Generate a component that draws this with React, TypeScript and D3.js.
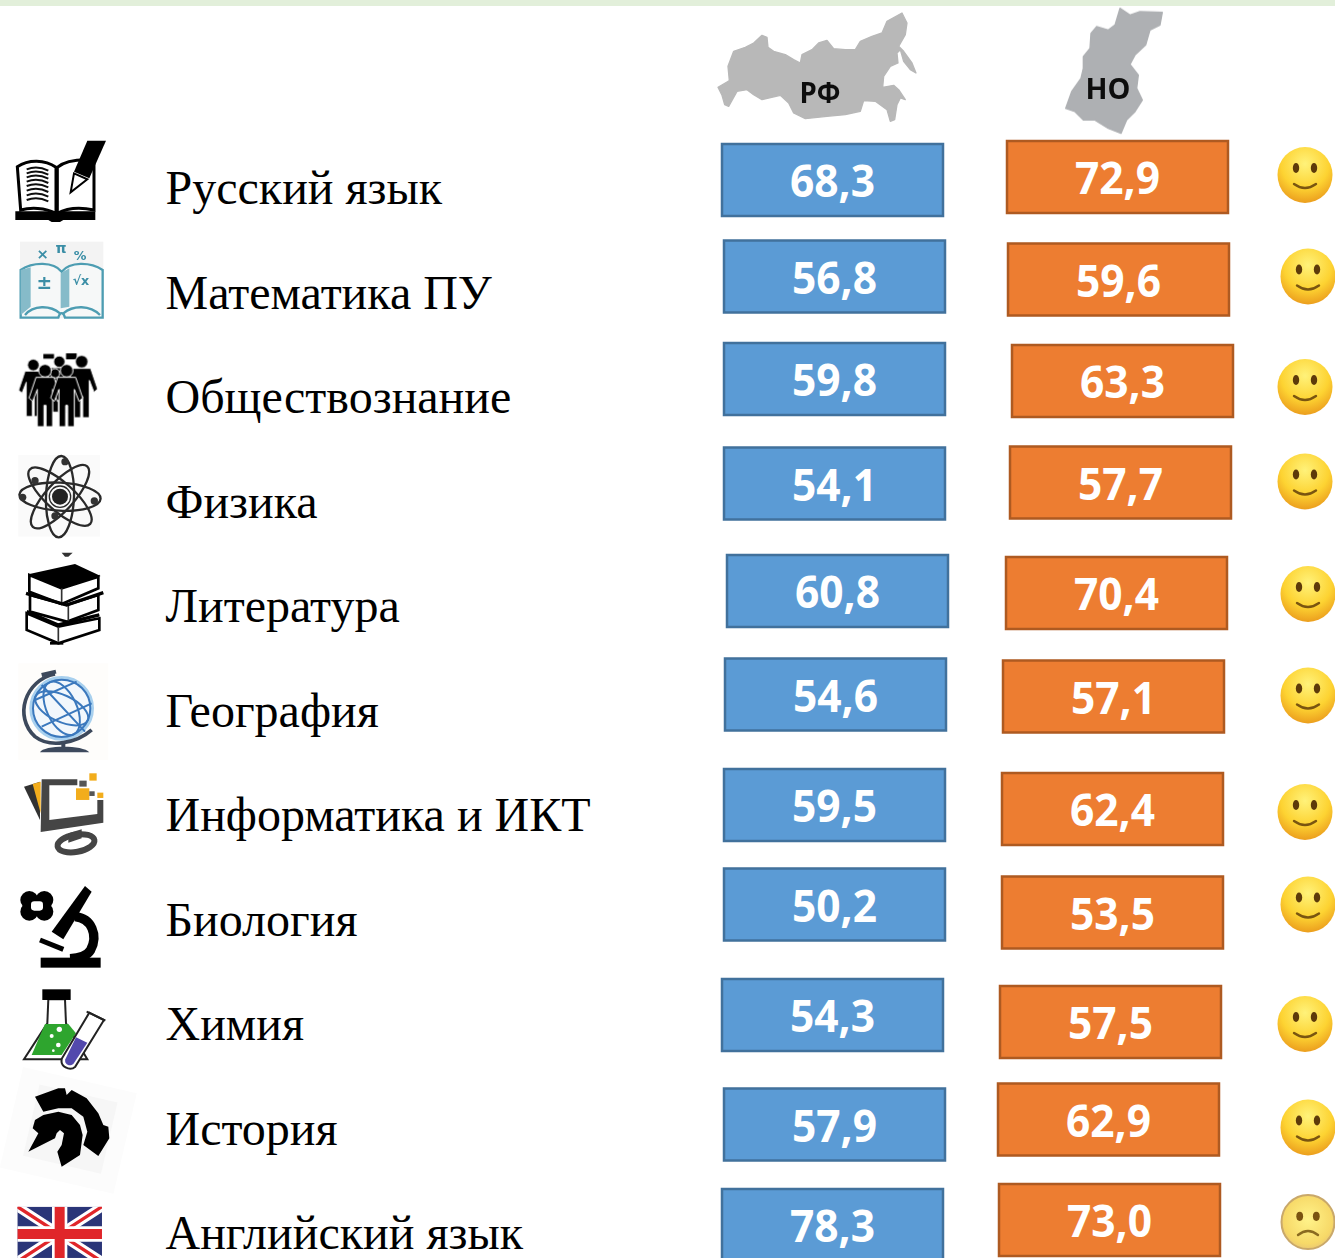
import React from "react";
import * as d3 from "d3";

// ---------- data ----------
const subjects = ["Русский язык","Математика ПУ","Обществознание","Физика","Литература","География","Информатика и ИКТ","Биология","Химия","История","Английский язык"];
const rfValues = [68.3,56.8,59.8,54.1,60.8,54.6,59.5,50.2,54.3,57.9,78.3];
const noValues = [72.9,59.6,63.3,57.7,70.4,57.1,62.4,53.5,57.5,62.9,73.0];
const headers = ["РФ","НО"];

// ---------- layout (hand-placed collage, offsets from each row's baseline) ----------
const W = 1335, H = 1258, BAR_W = 221, BAR_H = 72;
const rfX = [722,724,724,724,727,725,724,724,722,724,722];
const noX = [1007,1008,1012,1010,1006,1003,1002,1002,1000,998,999];
const rfDy = [-61,-69,-71,-71,-68,-69,-63,-68,-62,-57,-61];
const noDy = [-64,-66,-69,-72,-66,-67,-59,-60,-55,-62,-66];
const faceX = [1305,1308,1305,1305,1308,1308,1305,1308,1305,1308,1308];
const faceDy = [-30,-33,-27,-37,-29,-32,-20,-32,-17,-18,-28];

const rowY = d3.scalePoint<string>().domain(subjects).range([204,1249]);
const fmt = (v:number) => d3.format(".1f")(v).replace(".",",");

const russia = "M18 238L45 222L52 218L48 175L65 130L100 118L125 105L150 82L165 88L168 118L185 130L220 140L245 155L265 165L270 140L300 125L320 105L345 97L365 122L400 125L430 125L445 100L480 85L510 75L525 40L570 15L585 45L580 80L560 115L575 130L600 165L612 195L595 185L575 160L565 125L555 135L558 165L535 175L515 205L512 238L545 232L560 245L580 275L565 270L555 290L548 335L535 340L525 305L490 280L455 278L445 310L400 320L345 325L280 332L245 315L230 285L205 262L150 275L125 260L105 245L75 250L50 295L38 290L30 262Z";
const oblast = "M195 10L225 30L255 20L322 22L315 60L285 75L272 120L240 150L225 178L250 210L245 250L262 285L240 320L215 345L198 385L160 370L120 345L85 345L60 320L32 310L50 260L78 220L85 190L85 155L105 130L108 85L125 65L160 75L180 60Z";

function Person({x,y,s=1}:{x:number,y:number,s?:number}) {
  return <g transform={`translate(${x},${y}) scale(${s})`} fill="#000" stroke="#fff" strokeWidth="3">
    <path d="M-27 20H27L48 82L37 92L23 56V168H3V104H-3V168H-23V56L-37 92L-48 82Z"/>
    <circle r="19"/>
  </g>;
}

function Icon({i}:{i:number}) {
  const z = {filter:"url(#soft)"};
  if (i===0) return <g transform="translate(0,130) scale(.3333)" style={z}>
    <path d="M52 110C85 88 135 88 168 112V250C135 232 90 232 62 240Z M172 112C200 88 250 88 282 90V240C245 232 205 232 172 250Z" fill="#fff" stroke="#000" strokeWidth="9"/>
    <path d="M46 244H286V270H190L180 276H155L145 270H46Z" fill="#000"/>
    <g fill="none" stroke="#111" strokeWidth="6">
      {[118,130,142,155,168,182,196,210].map(y=><path key={y} d={`M80 ${y}C100 ${y-8} 125 ${y-6} 145 ${y+4}`}/>)}
    </g>
    <path d="M262 32H318L268 145L222 125Z" fill="#000"/>
    <path d="M222 130L262 148L212 187Z" fill="#fff" stroke="#000" strokeWidth="6"/>
  </g>;
  if (i===1) return <g transform="translate(0,130) scale(.3333)" style={z}>
    <rect x="60" y="335" width="250" height="230" fill="#f3f3f3"/>
    <path d="M62 420C100 395 160 395 185 425C210 395 270 395 308 420V563H195C190 545 180 545 175 563H62Z" fill="#f6f8f8" stroke="#4e9db2" strokeWidth="7"/>
    <path d="M62 420L92 412V530L62 555Z M208 415L182 430V535L208 530Z" fill="#86bbc9"/>
    <path d="M75 555C100 525 150 525 180 550M190 550C220 525 270 525 300 555" fill="none" stroke="#4e9db2" strokeWidth="7"/>
    <g fill="#3b8ea6" fontFamily="DejaVu Sans" fontWeight="700" textAnchor="middle">
      <text x="128" y="388" fontSize="44">×</text>
      <text x="183" y="368" fontSize="42">π</text>
      <text x="240" y="390" fontSize="38">%</text>
      <text x="133" y="476" fontSize="56">±</text>
      <text x="243" y="464" fontSize="38">√x</text>
    </g>
  </g>;
  if (i===2) return <g transform="translate(0,340) scale(.3333)" style={z}>
    <rect x="130" y="42" width="32" height="14" fill="#000"/>
    <rect x="198" y="40" width="32" height="18" fill="#000"/>
    <Person x={100} y={75} s={.92}/>
    <Person x={245} y={65} s={1.0}/>
    <Person x={178} y={65} s={.9}/>
    <circle cx="165" cy="100" r="14" fill="#000" stroke="#fff" strokeWidth="3"/>
    <Person x={135} y={92}/>
    <Person x={200} y={92}/>
  </g>;
  if (i===3) return <g transform="translate(0,440) scale(.3333)" style={z}>
    <rect x="55" y="45" width="245" height="245" fill="#fafafa"/>
    <g fill="none" stroke="#2a2a2a" strokeWidth="7">
      {[3,42,92,132].map(a=><ellipse key={a} cx="180" cy="170" rx="122" ry="42" transform={`rotate(${a} 180 170)`}/>)}
      <circle cx="180" cy="170" r="32" strokeWidth="4"/>
    </g>
    <circle cx="180" cy="170" r="24" fill="#222"/>
    {[[195,65],[105,122],[283,183],[165,228],[68,172]].map(([x,y])=><circle key={x} cx={x} cy={y} r="11" fill="#333"/>)}
  </g>;
  if (i===4) return <g transform="translate(0,440) scale(.3333)" style={z}>
    <path d="M185 338H218L205 350H195Z" fill="#333"/>
    <path d="M80 520V570L175 610L298 570V535L175 560Z" fill="#fff" stroke="#000" strokeWidth="8"/>
    <path d="M90 465V515L200 545L295 510V465L200 495Z" fill="#fff" stroke="#000" strokeWidth="8"/>
    <path d="M88 405V455L185 492L295 445V410L185 445Z" fill="#fff" stroke="#000" strokeWidth="8"/>
    <path d="M85 403L225 372L302 408L185 445Z" fill="#000"/>
    <path d="M185 445V490M205 495V545M175 560V605" stroke="#333" strokeWidth="5"/>
    <path d="M80 515L175 555L298 525" fill="none" stroke="#000" strokeWidth="10"/>
    <path d="M78 460L200 495L310 458" fill="none" stroke="#000" strokeWidth="10"/>
    <path d="M150 610H190" stroke="#000" strokeWidth="8"/>
  </g>;
  if (i===5) return <g transform="translate(0,440) scale(.3333)" style={z}>
    <rect x="55" y="670" width="270" height="290" fill="#fefdfb"/>
    <circle cx="185" cy="805" r="92" fill="#f2f7fc" stroke="#a8d0ee" strokeWidth="10"/>
    <g fill="none" stroke="#3a78bd" strokeWidth="6">
      <ellipse cx="185" cy="805" rx="86" ry="86"/>
      <ellipse cx="185" cy="805" rx="45" ry="86" transform="rotate(-25 185 805)"/>
      <ellipse cx="185" cy="805" rx="86" ry="40" transform="rotate(25 185 805)"/>
      <path d="M125 735L255 875M105 780L230 725M125 860L275 790"/>
    </g>
    <path d="M165 702C75 720 40 830 105 890C150 925 230 910 275 870" fill="none" stroke="#3d4a5c" strokeWidth="11"/>
    <path d="M125 705L168 695" stroke="#3d4a5c" strokeWidth="12"/>
    <path d="M190 905V925" stroke="#3d4a5c" strokeWidth="12"/>
    <path d="M120 937C130 915 250 915 268 937Z" fill="#3d4a5c"/>
  </g>;
  if (i===6) return <g transform="translate(0,440) scale(.3333)" style={z}>
    <path d="M72 1040L120 1025V1140Z" fill="#333"/>
    <path d="M98 1032L122 1025V1120Z" fill="#f2ad1e"/>
    <path d="M125 1018H232V1036H148V1140L292 1122V1080H310V1148L122 1176Z" fill="#444"/>
    <rect x="228" y="1045" width="40" height="35" fill="#f2ad1e"/>
    <rect x="268" y="1000" width="22" height="22" fill="#f2ad1e"/>
    <rect x="238" y="1022" width="22" height="18" fill="#555"/>
    <rect x="292" y="1058" width="18" height="16" fill="#f2ad1e"/>
    <rect x="268" y="1054" width="16" height="14" fill="#555"/>
    <ellipse cx="228" cy="1210" rx="56" ry="26" fill="none" stroke="#444" strokeWidth="18" transform="rotate(-10 228 1210)"/>
    <path d="M205 1208V1180L245 1168V1195Z" fill="#444"/>
  </g>;
  if (i===7) return <g transform="translate(0,860) scale(.3333)" style={z}>
    <g fill="#000"><circle cx="88" cy="120" r="27"/><circle cx="133" cy="120" r="27"/><circle cx="88" cy="155" r="27"/><circle cx="133" cy="155" r="27"/></g>
    <rect x="93" y="124" width="36" height="28" rx="10" fill="#fff"/>
    <path d="M255 78L275 95L190 238L155 215Z" fill="#000"/>
    <path d="M120 240L190 268" stroke="#000" strokeWidth="15"/>
    <path d="M225 170C275 175 295 225 272 270C260 290 235 295 210 296" fill="none" stroke="#000" strokeWidth="28"/>
    <rect x="122" y="293" width="180" height="30" fill="#000"/>
  </g>;
  if (i===8) return <g transform="translate(0,860) scale(.3333)" style={z}>
    <path d="M145 418H195L198 490L262 598H72L142 490Z" fill="#fff" stroke="#222" strokeWidth="6"/>
    <path d="M135 492H205L228 520L185 585H95Z" fill="#2fa52f"/>
    <g fill="#fff"><circle cx="178" cy="508" r="8"/><circle cx="155" cy="528" r="6"/><circle cx="175" cy="555" r="7"/><circle cx="160" cy="572" r="4"/></g>
    <rect x="127" y="388" width="85" height="32" fill="#000"/>
    <path d="M268 458L312 480L226 620C210 635 178 620 186 595Z" fill="#fff" stroke="#222" strokeWidth="6"/>
    <path d="M228 532L262 548L220 612C208 622 192 612 196 598Z" fill="#5248ad"/>
    <path d="M260 455L316 482" stroke="#222" strokeWidth="6"/>
  </g>;
  if (i===9) return <g transform="translate(0,1070) scale(.3333)" style={z}>
    <rect x="30" y="25" width="350" height="310" fill="#fcfcfc" transform="rotate(13 200 180)"/>
    <rect x="90" y="65" width="240" height="220" fill="#f6f6f6" transform="rotate(13 200 180)"/>
    <path d="M105 80L175 55L195 55L200 75L215 60L260 85L295 130L310 165L325 170L328 205L295 258L250 225L262 185L250 140L215 115L175 115L130 125Z" fill="#000"/>
    <path d="M130 135L175 125L215 135L240 165L248 195L240 255L185 290L172 245L185 225L192 190L180 180L170 190L165 205L85 245L115 190L98 175L105 150Z" fill="#000"/>
  </g>;
  // flag
  return <g transform="translate(0,860) scale(.3333)" style={z}>
    <clipPath id="flagClip"><rect x="52" y="1040" width="254" height="154"/></clipPath>
    <g clipPath="url(#flagClip)">
      <rect x="52" y="1040" width="254" height="154" fill="#2a3578"/>
      <path d="M52 1040L306 1205M306 1040L52 1205" stroke="#fff" strokeWidth="28"/>
      <path d="M52 1040L306 1205M306 1040L52 1205" stroke="#e0272b" strokeWidth="10"/>
      <path d="M179 1040V1194M52 1122H306" stroke="#fff" strokeWidth="46"/>
      <path d="M179 1040V1194M52 1122H306" stroke="#e0272b" strokeWidth="30"/>
    </g>
  </g>;
}

function Face({x,y,sad}:{x:number,y:number,sad:boolean}) {
  if (sad) return <g transform={`translate(${x},${y})`}>
    <ellipse rx="26.5" ry="27" fill="url(#sadG)" stroke="#c9a86a" strokeWidth="2"/>
    <ellipse cx="-8.3" cy="-5.7" rx="3.4" ry="4.6" fill="#7a5310"/>
    <ellipse cx="8.3" cy="-5.7" rx="3.4" ry="4.6" fill="#7a5310"/>
    <path d="M-10 13Q0 5 10 13" fill="none" stroke="#8a6a20" strokeWidth="2.4" strokeLinecap="round"/>
  </g>;
  return <g transform={`translate(${x},${y})`}>
    <ellipse rx="27.5" ry="28" fill="url(#faceG)"/>
    <ellipse cx="-9" cy="-7" rx="3.2" ry="5" fill="#5d3a0a"/>
    <ellipse cx="9" cy="-7" rx="3.2" ry="5" fill="#5d3a0a"/>
    <path d="M-11 9Q0 17 11 9" fill="none" stroke="#7a5510" strokeWidth="2.4" strokeLinecap="round"/>
  </g>;
}

export default function App() {
  return (
    <svg width={W} height={H} viewBox={`0 0 ${W} ${H}`} style={{position:"fixed",left:0,top:0,background:"#fff"}}>
      <defs>
        <filter id="soft" x="-10%" y="-10%" width="120%" height="120%"><feGaussianBlur stdDeviation="2.2"/></filter>
        <filter id="softer" x="-5%" y="-5%" width="110%" height="110%"><feGaussianBlur stdDeviation="0.7"/></filter>
        <radialGradient id="faceG" cx="50%" cy="30%" r="72%">
          <stop offset="0%" stopColor="#fff27a"/><stop offset="60%" stopColor="#fdd332"/><stop offset="100%" stopColor="#ea9a1c"/>
        </radialGradient>
        <radialGradient id="sadG" cx="50%" cy="45%" r="60%">
          <stop offset="0%" stopColor="#fff38a"/><stop offset="75%" stopColor="#f7d968"/><stop offset="100%" stopColor="#e6c274"/>
        </radialGradient>
      </defs>
      <rect width={W} height="6" fill="#e2efda"/>

      <g filter="url(#softer)">
        <path transform="translate(712,8) scale(.3333)" d={russia} fill="#b8b8b8" stroke="#b8b8b8" strokeWidth="4" strokeLinejoin="round"/>
        <path transform="translate(1055,5) scale(.3333)" d={oblast} fill="#aeb0b3" stroke="#aeb0b3" strokeWidth="4" strokeLinejoin="round"/>
      </g>
      <g fontFamily="Open Sans" fontWeight="700" fontSize="28" fill="#111" textAnchor="middle" filter="url(#softer)">
        <text x="820" y="103" textLength="41" lengthAdjust="spacingAndGlyphs">{headers[0]}</text>
        <text x="1108" y="99" textLength="45" lengthAdjust="spacingAndGlyphs">{headers[1]}</text>
      </g>

      {subjects.map((s,i)=>{
        const y = rowY(s)!;
        return <g key={s}>
          <Icon i={i}/>
          <text x="165.5" y={y} fontFamily="Liberation Serif" fontSize="48" fill="#000">{s}</text>
          <rect x={rfX[i]} y={y+1+rfDy[i]} width={BAR_W} height={BAR_H} fill="#5b9bd5" stroke="#41719c" strokeWidth="2.5"/>
          <text x={rfX[i]+BAR_W/2} y={y+1+rfDy[i]+53} textAnchor="middle" fontFamily="Open Sans" fontWeight="700" fontSize="44" fill="#fff" textLength="85" lengthAdjust="spacingAndGlyphs">{fmt(rfValues[i])}</text>
          <rect x={noX[i]} y={y+1+noDy[i]} width={BAR_W} height={BAR_H} fill="#ed7d31" stroke="#ae5a21" strokeWidth="2.5"/>
          <text x={noX[i]+BAR_W/2} y={y+1+noDy[i]+53} textAnchor="middle" fontFamily="Open Sans" fontWeight="700" fontSize="44" fill="#fff" textLength="85" lengthAdjust="spacingAndGlyphs">{fmt(noValues[i])}</text>
          <Face x={faceX[i]} y={y+1+faceDy[i]} sad={noValues[i]<rfValues[i]}/>
        </g>;
      })}
    </svg>
  );
}
